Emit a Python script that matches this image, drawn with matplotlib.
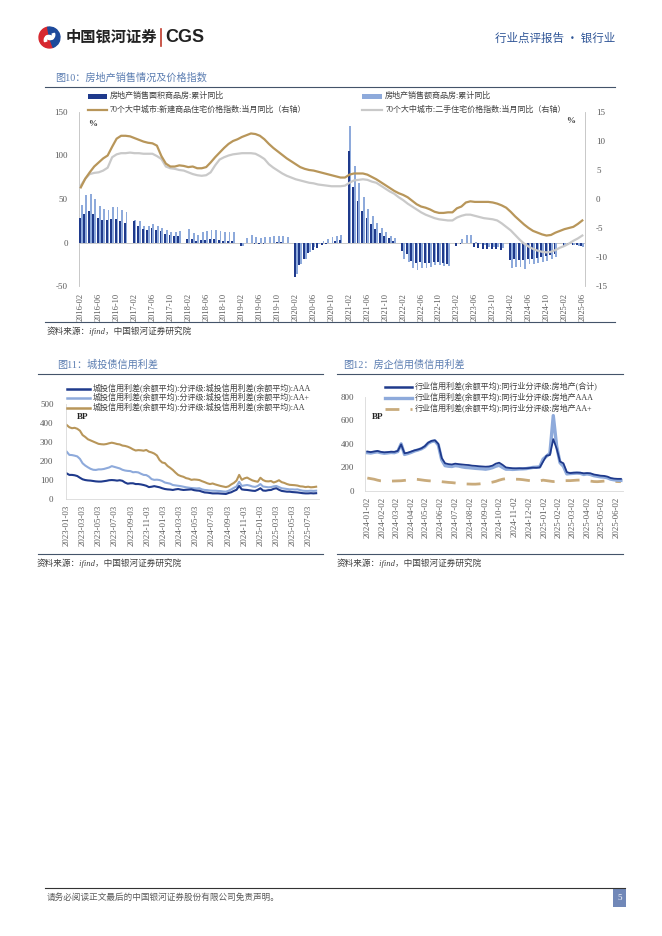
import numpy as np
import pandas as pd
import matplotlib
matplotlib.use('Agg')
import matplotlib.pyplot as plt
import matplotlib.dates as mdates
from matplotlib.lines import Line2D
from matplotlib.patches import Rectangle, Wedge

plt.rcParams['font.family'] = ['Liberation Serif', 'Noto Sans CJK SC']
plt.rcParams['axes.unicode_minus'] = False

# ---------------- data: fig 10 (monthly, 2016-02 .. 2025-06) ----------------
nan = np.nan
area_yoy = [28.2, 33.1, 36.5, 33.2, 27.9, 26.4, 25.5, 26.9, 26.8, 24.3, 22.5,
            nan, 25.1, 19.5, 15.7, 14.3, 16.1, 14.0, 12.7, 10.3, 8.2, 7.9, 7.7,
            nan, 4.1, 3.6, 1.3, 2.9, 3.3, 4.2, 4.0, 2.9, 2.2, 1.4, 1.3,
            nan, -3.6, -0.9, -0.3, -1.6, -1.8, -1.3, -0.6, -0.1, 0.1, 0.2, -0.1,
            nan, -39.9, -26.3, -19.3, -12.3, -8.4, -5.8, -3.3, -1.8, 0.0, 1.3, 2.6,
            nan, 104.9, 63.8, 48.1, 36.3, 27.7, 21.5, 15.9, 11.3, 7.3, 4.8, 1.9,
            nan, -9.6, -13.6, -20.9, -23.6, -22.2, -23.1, -23.0, -22.2, -22.3, -23.3, -24.3,
            nan, -3.6, -1.8, -0.4, -0.9, -5.3, -6.5, -7.1, -7.5, -7.8, -8.0, -8.5,
            nan, -20.5, -19.4, -20.2, -20.3, -19.0, -18.6, -18.0, -17.1, -15.8, -14.3, -12.9,
            nan, -5.1, -3.0, -2.8, -2.9, -3.5]
value_yoy = [43.6, 54.1, 55.9, 49.7, 42.1, 38.7, 37.3, 41.3, 41.2, 37.5, 34.8,
             nan, 26.1, 25.1, 19.3, 18.6, 21.5, 19.3, 17.0, 14.6, 12.6, 12.2, 13.7,
             nan, 15.3, 10.4, 8.5, 11.6, 13.2, 14.5, 14.5, 13.3, 12.5, 12.1, 12.2,
             nan, -3.6, 5.6, 8.1, 6.1, 5.6, 6.2, 6.7, 7.1, 7.3, 7.3, 6.5,
             nan, -35.9, -24.7, -18.6, -10.6, -5.4, -2.1, 1.6, 3.7, 5.8, 7.2, 8.7,
             nan, 133.4, 88.5, 68.2, 52.4, 38.9, 30.7, 22.8, 16.6, 11.8, 8.0, 4.8,
             nan, -19.3, -22.7, -29.5, -31.5, -28.9, -28.8, -27.9, -26.3, -26.1, -26.6, -26.7,
             nan, -0.1, 4.1, 8.8, 8.4, 1.1, -1.5, -3.2, -4.6, -4.9, -5.2, -6.5,
             nan, -29.3, -27.6, -28.3, -30.5, -25.0, -24.3, -23.6, -22.7, -20.9, -19.2, -17.1,
             nan, -2.6, -2.1, -3.2, -3.8, -5.5]
new_price = [2.0, 3.5, 4.6, 5.6, 6.3, 7.0, 7.5, 9.0, 10.4, 10.9, 10.9,
             10.8, 10.5, 10.2, 9.9, 9.7, 9.6, 9.2, 7.4, 6.1, 5.6, 5.6, 5.8,
             5.7, 5.5, 5.6, 5.3, 5.3, 5.5, 6.3, 7.2, 8.0, 8.8, 9.5, 10.0,
             10.3, 10.7, 11.0, 11.3, 11.2, 10.9, 10.3, 9.5, 8.8, 8.2, 7.6, 7.0,
             6.5, 6.0, 5.5, 5.2, 5.0, 4.9, 4.7, 4.5, 4.3, 4.1, 3.9, 3.7,
             3.7, 4.2, 4.4, 4.4, 4.4, 4.2, 3.8, 3.4, 2.9, 2.4, 1.9, 1.4,
             1.0, 0.7, 0.3, -0.3, -0.9, -1.3, -1.5, -1.8, -2.2, -2.4, -2.4, -2.3,
             -2.3, -1.6, -1.3, -0.6, -0.4, -0.5, -0.5, -0.5, -0.5, -0.6, -0.8, -1.1,
             -1.5, -2.2, -3.0, -3.7, -4.4, -5.0, -5.5, -5.8, -6.1, -6.3, -6.2, -5.8,
             -5.5, -5.2, -5.0, -4.8, -4.3, -3.7]
used_price = [2.3, 3.5, 4.3, 4.5, 4.6, 4.9, 5.4, 7.2, 7.7, 7.9, 7.9,
              8.0, 7.9, 7.9, 7.8, 7.8, 7.8, 7.4, 6.9, 5.6, 5.3, 5.2, 5.0,
              4.9, 4.6, 4.3, 4.1, 4.0, 4.1, 4.6, 5.8, 6.8, 7.2, 7.5, 7.7,
              7.8, 7.9, 7.9, 7.9, 7.8, 7.4, 6.9, 6.0, 5.4, 4.9, 4.4, 4.0,
              3.7, 3.4, 3.2, 3.0, 2.8, 2.7, 2.5, 2.4, 2.3, 2.2, 2.2, 2.2,
              2.3, 2.8, 3.2, 3.3, 3.4, 3.3, 3.0, 2.8, 2.3, 1.8, 1.3, 0.9,
              0.3, -0.2, -0.8, -1.3, -1.8, -2.3, -2.7, -3.0, -3.3, -3.5, -3.6, -3.7,
              -3.7, -3.2, -2.9, -2.7, -2.7, -2.9, -3.1, -3.3, -3.4, -3.5, -3.7, -4.2,
              -4.8, -5.4, -6.2, -7.0, -7.7, -8.2, -8.6, -8.9, -9.1, -9.2, -9.1, -8.8,
              -8.4, -8.1, -7.7, -7.2, -6.8, -6.3]
months = pd.date_range('2016-02-01', '2025-06-01', freq='MS').strftime('%Y-%m').tolist()

# ---------------- data: fig 11 (every 10 days from 2023-01-03) ----------------
lgfv_aaa = [136, 128, 128, 126, 122, 113, 105, 101, 99, 98, 96, 94, 93, 93, 95, 97, 100, 101, 100, 98,
            100, 97, 88, 82, 84, 84, 80, 80, 78, 75, 71, 64, 66, 69, 66, 63, 58, 54, 52, 51,
            49, 52, 54, 51, 49, 50, 51, 52, 48, 46, 45, 40, 36, 35, 33, 31, 31, 31, 30, 29,
            28, 33, 37, 44, 50, 70, 52, 50, 49, 47, 45, 44, 50, 58, 46, 45, 48, 49, 55, 58,
            50, 44, 42, 40, 40, 38, 37, 36, 34, 32, 31, 31, 32, 31, 32]
lgfv_aap = [250, 233, 232, 229, 225, 212, 189, 177, 168, 160, 155, 154, 157, 157, 159, 163, 167, 174, 170, 166,
            162, 155, 151, 149, 148, 142, 143, 141, 134, 128, 127, 119, 106, 102, 103, 101, 96, 88, 85, 82,
            75, 73, 71, 69, 66, 63, 61, 59, 58, 57, 58, 52, 49, 48, 46, 45, 45, 44, 43, 41,
            40, 45, 52, 60, 67, 92, 70, 73, 75, 72, 67, 65, 70, 80, 67, 65, 63, 64, 68, 70,
            64, 58, 56, 54, 52, 52, 51, 52, 48, 45, 44, 44, 45, 44, 45]
lgfv_aa = [390, 378, 373, 375, 370, 360, 337, 327, 315, 309, 303, 297, 291, 289, 288, 290, 294, 297, 294, 290,
           288, 282, 280, 276, 270, 262, 256, 258, 257, 255, 259, 250, 246, 240, 230, 206, 193, 190, 175, 165,
           154, 140, 128, 122, 118, 111, 108, 102, 104, 103, 101, 95, 90, 84, 80, 83, 78, 74, 70, 67,
           64, 68, 78, 86, 98, 128, 102, 110, 114, 106, 99, 95, 92, 113, 101, 95, 94, 96, 88, 93,
           100, 90, 86, 80, 76, 75, 74, 72, 68, 67, 64, 66, 63, 64, 66]
lgfv_dates = pd.date_range('2023-01-03', periods=len(lgfv_aa), freq='10D')
lgfv_ticks = ['2023-01-03', '2023-03-03', '2023-05-03', '2023-07-03', '2023-09-03', '2023-11-03',
              '2024-01-03', '2024-03-03', '2024-05-03', '2024-07-03', '2024-09-03', '2024-11-03',
              '2025-01-03', '2025-03-03', '2025-05-03', '2025-07-03']

# ---------------- data: fig 12 (weekly from 2024-01-02) ----------------
re_total = [335, 330, 335, 340, 332, 328, 330, 333, 332, 340, 395, 320, 325, 335, 345, 352, 362, 380, 410, 425,
            430, 400, 280, 235, 228, 225, 232, 228, 225, 222, 220, 215, 213, 210, 208, 206, 208, 215, 232, 240,
            222, 200, 196, 193, 192, 193, 192, 193, 195, 198, 197, 200, 250, 300, 305, 440, 360, 250, 235, 160,
            152, 155, 156, 155, 150, 152, 150, 140, 135, 130, 128, 122, 110, 105, 103, 103]
re_aaa = [325, 322, 328, 332, 325, 320, 323, 327, 325, 335, 400, 310, 318, 328, 340, 348, 358, 375, 405, 420,
          425, 390, 265, 215, 210, 208, 215, 212, 205, 200, 198, 195, 192, 190, 188, 185, 190, 198, 210, 218,
          200, 185, 185, 183, 185, 187, 188, 190, 195, 200, 202, 205, 270, 295, 320, 640, 380, 240, 210, 145,
          148, 150, 152, 150, 140, 145, 140, 130, 125, 120, 118, 112, 100, 95, 92, 90]
re_aap = [110, 105, 100, 92, 86, 84, 83, 84, 85, 86, 87, 90, 93, 96, 100, 98, 94, 90, 87, 85,
          84, 82, 79, 76, 73, 71, 68, 65, 62, 60, 59, 58, 58, 60, 63, 66, 70, 75, 82, 92,
          100, 105, 103, 101, 100, 99, 96, 92, 88, 84, 82, 86, 92, 88, 84, 80, 84, 86, 87, 88,
          88, 90, 92, 93, 92, 88, 84, 80, 79, 81, 84, 86, 85, 82, 80, 79]
re_dates = pd.date_range('2024-01-02', periods=len(re_total), freq='7D')
re_ticks = ['2024-01-02', '2024-02-02', '2024-03-02', '2024-04-02', '2024-05-02', '2024-06-02',
            '2024-07-02', '2024-08-02', '2024-09-02', '2024-10-02', '2024-11-02', '2024-12-02',
            '2025-01-02', '2025-02-02', '2025-03-02', '2025-04-02', '2025-05-02', '2025-06-02']

# ---------------- styling ----------------
NAVY = '#1f3a8c'
LBLUE = '#8eaadb'
GOLD = '#b8965a'
LGRAY = '#c9c9c9'
TXT = '#404040'
TICK = '#595959'
TITLE = '#5b7db1'
RULE = '#44546a'

W, H = 662, 936
fig = plt.figure(figsize=(W / 100, H / 100), dpi=100)


def fx(x):
    return x / W


def fy(y):
    return 1 - y / H


def axes_px(x0, y0, x1, y1):
    return fig.add_axes([fx(x0), fy(y1), (x1 - x0) / W, (y1 - y0) / H])


def hline(x0, x1, y, color=RULE, lw=0.8):
    fig.add_artist(Line2D([fx(x0), fx(x1)], [fy(y), fy(y)], transform=fig.transFigure, color=color, lw=lw))


def text(x, y, s, **kw):
    kw.setdefault('va', 'center')
    kw.setdefault('color', TXT)
    fig.text(fx(x), fy(y), s, **kw)


def legend_line(x0, x1, y, label, fs=5.8, **kw):
    fig.add_artist(Line2D([fx(x0), fx(x1)], [fy(y), fy(y)], transform=fig.transFigure, **kw))
    text(x1 + 3, y, label, fontsize=fs)


def legend_patch(x0, x1, y, label, color, fs=5.8):
    fig.add_artist(Rectangle((fx(x0), fy(y + 2.5)), (x1 - x0) / W, 5 / H, transform=fig.transFigure,
                             color=color, lw=0))
    text(x1 + 3, y, label, fontsize=fs)


# ---------------- header ----------------
logo = axes_px(37, 26, 62, 49)
logo.set_xlim(-1.1, 1.1)
logo.set_ylim(-1.1, 1.1)
logo.set_aspect('equal')
logo.axis('off')
logo.add_patch(Wedge((0, 0), 1, 100, 290, color='#d7282f'))
logo.add_patch(Wedge((0, 0), 1, -70, 100, color='#1d4a9b'))
logo.add_patch(Wedge((0.05, 0.25), 0.45, 200, 20, width=0.22, color='white'))
logo.add_patch(Wedge((-0.05, -0.25), 0.45, 20, 200, width=0.22, color='white'))
text(66, 37, '中国银河证券', fontsize=11, fontweight='bold', color='#222222', family='Noto Sans CJK SC')
fig.add_artist(Line2D([fx(161), fx(161)], [fy(29), fy(46)], transform=fig.transFigure, color='#c0392b', lw=1.2))
text(165, 37.5, 'CGS', fontsize=13, fontweight='bold', color='#222222', family='Liberation Sans')
text(615, 38, '行业点评报告 · 银行业', fontsize=8.3, color='#2f5597', ha='right', family='Noto Sans CJK SC')

# ---------------- fig 10 ----------------
text(55, 78, '图10：房地产销售情况及价格指数', fontsize=7.3, color=TITLE)
hline(45, 615, 87)

ax1 = axes_px(79, 112, 585, 286)
x = np.arange(len(months))
ax1.bar(x - 0.2, area_yoy, width=0.42, color=NAVY, zorder=3)
ax1.bar(x + 0.2, value_yoy, width=0.42, color=LBLUE, zorder=2)
ax1.axhline(0, color='#bfbfbf', lw=0.6, zorder=1)
ax1.set_xlim(-0.4, len(months) - 0.4)
ax1.set_ylim(-50, 150)
ax1.set_yticks([-50, 0, 50, 100, 150])
ax1.set_xticks(x[::4])
ax1.set_xticklabels(months[::4], rotation=90)
ax1.tick_params(axis='x', length=0, pad=5, labelsize=6, labelcolor=TICK)
ax1.tick_params(axis='y', length=0, pad=8, labelsize=6.5, labelcolor=TICK)
for s in ['top', 'bottom', 'right']:
    ax1.spines[s].set_visible(False)
ax1.spines['left'].set_color('#bfbfbf')
ax1.spines['left'].set_linewidth(0.6)

ax1r = ax1.twinx()
ax1r.plot(x, used_price, color=LGRAY, lw=1.6, zorder=4)
ax1r.plot(x, new_price, color=GOLD, lw=1.6, zorder=5)
ax1r.set_ylim(-15, 15)
ax1r.set_yticks([-15, -10, -5, 0, 5, 10, 15])
ax1r.tick_params(axis='y', length=0, pad=8, labelsize=6.5, labelcolor=TICK)
for s in ['top', 'bottom', 'left']:
    ax1r.spines[s].set_visible(False)
ax1r.spines['right'].set_color('#bfbfbf')
ax1r.spines['right'].set_linewidth(0.6)

legend_patch(88, 107, 96, '房地产销售面积商品房:累计同比', NAVY)
legend_patch(362, 382, 96, '房地产销售额商品房:累计同比', LBLUE)
legend_line(88, 107, 110, '70个大中城市:新建商品住宅价格指数:当月同比（右轴）', color=GOLD, lw=1.6)
legend_line(362, 382, 110, '70个大中城市:二手住宅价格指数:当月同比（右轴）', color=LGRAY, lw=1.6)
text(88, 124, '%', fontsize=6.5, fontweight='bold')
text(566, 121, '%', fontsize=6.5, fontweight='bold')

hline(45, 615, 322)
text(47, 331, '资料来源：ifind，中国银河证券研究院', fontsize=6.2, style='italic')

# ---------------- fig 11 ----------------
text(57, 365, '图11：城投债信用利差', fontsize=7.3, color=TITLE)
hline(38, 323, 374)

ax2 = axes_px(66, 404, 319, 499.3)
d0 = mdates.date2num(pd.Timestamp('2023-01-03'))
ax2.plot(lgfv_dates, lgfv_aa, color=GOLD, lw=1.5)
ax2.plot(lgfv_dates, lgfv_aap, color=LBLUE, lw=1.5)
ax2.plot(lgfv_dates, lgfv_aaa, color=NAVY, lw=1.5)
ax2.set_xlim(d0 - 2.5, d0 - 2.5 + 253 / 0.2654)
ax2.set_ylim(0, 500)
ax2.set_yticks(range(0, 501, 100))
ax2.set_xticks(pd.to_datetime(lgfv_ticks))
ax2.set_xticklabels(lgfv_ticks, rotation=90)
ax2.tick_params(axis='x', length=0, pad=4, labelsize=6.3, labelcolor=TICK)
ax2.tick_params(axis='y', length=0, pad=9, labelsize=6.5, labelcolor=TICK)
for s in ['top', 'right']:
    ax2.spines[s].set_visible(False)
for s in ['left', 'bottom']:
    ax2.spines[s].set_color('#d9d9d9')
    ax2.spines[s].set_linewidth(0.6)

legend_line(67, 90, 388.5, '城投信用利差(余额平均):分评级:城投信用利差(余额平均):AAA', color=NAVY, lw=1.8)
legend_line(67, 90, 398, '城投信用利差(余额平均):分评级:城投信用利差(余额平均):AA+', color=LBLUE, lw=1.8)
legend_line(67, 90, 407.5, '城投信用利差(余额平均):分评级:城投信用利差(余额平均):AA', color=GOLD, lw=1.8)
text(77, 417, 'BP', fontsize=6.5, fontweight='bold', color='#222222')

hline(38, 323, 554)
text(37, 563, '资料来源：ifind，中国银河证券研究院', fontsize=6.2, style='italic')

# ---------------- fig 12 ----------------
text(343, 365, '图12：房企信用债信用利差', fontsize=7.3, color=TITLE)
hline(337, 623, 374)

ax3 = axes_px(365, 396.7, 623, 491)
e0 = mdates.date2num(pd.Timestamp('2024-01-02'))
ax3.plot(re_dates, re_aap, color='#c9ab7c', lw=2.0, dashes=(5, 4))
ax3.plot(re_dates, re_aaa, color=LBLUE, lw=2.4)
ax3.plot(re_dates, re_total, color=NAVY, lw=1.3)
ax3.set_xlim(e0 - 4.8, e0 - 4.8 + 258 / 0.483)
ax3.set_ylim(0, 800)
ax3.set_yticks(range(0, 801, 200))
ax3.set_xticks(pd.to_datetime(re_ticks))
ax3.set_xticklabels(re_ticks, rotation=90)
ax3.tick_params(axis='x', length=0, pad=4, labelsize=6.3, labelcolor=TICK)
ax3.tick_params(axis='y', length=0, pad=8, labelsize=6.5, labelcolor=TICK)
for s in ['top', 'right']:
    ax3.spines[s].set_visible(False)
for s in ['left', 'bottom']:
    ax3.spines[s].set_color('#d9d9d9')
    ax3.spines[s].set_linewidth(0.6)

legend_line(385, 412, 386.5, '行业信用利差(余额平均):同行业分评级:房地产(合计)', color=NAVY, lw=1.8)
legend_line(385, 412, 397.5, '行业信用利差(余额平均):同行业分评级:房地产AAA', color=LBLUE, lw=2.4)
legend_line(385, 412, 408.5, '行业信用利差(余额平均):同行业分评级:房地产AA+', color='#c9ab7c', lw=2.0, dashes=(5, 4))
text(372, 417, 'BP', fontsize=6.5, fontweight='bold', color='#222222')

hline(337, 623, 554)
text(337, 563, '资料来源：ifind，中国银河证券研究院', fontsize=6.2, style='italic')

# ---------------- footer ----------------
hline(45, 625, 888, color='#333333', lw=0.8)
text(47, 898, '请务必阅读正文最后的中国银河证券股份有限公司免责声明。', fontsize=6.2, color=TICK)
fig.add_artist(Rectangle((fx(613), fy(907)), 13 / W, 19 / H, transform=fig.transFigure, color='#7188b8', lw=0))
text(619.5, 898, '5', fontsize=6.5, color='white', ha='center')

fig.savefig('out.png', dpi=100)
